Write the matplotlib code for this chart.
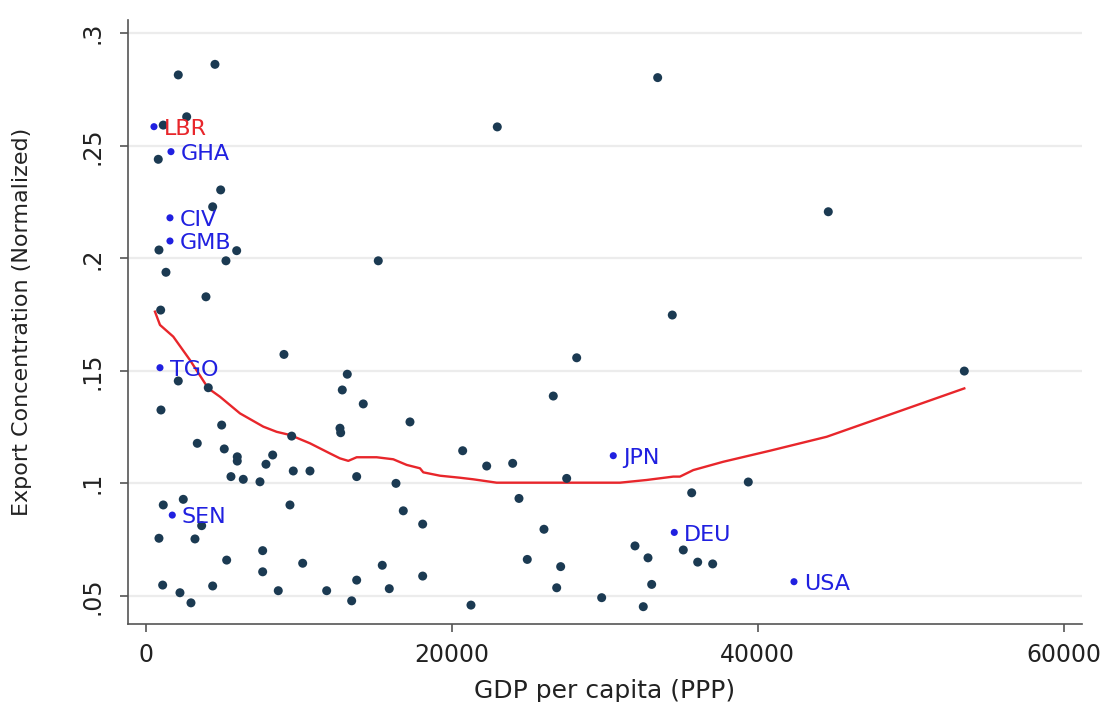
import matplotlib
matplotlib.use("Agg")
import matplotlib.pyplot as plt

# Countries without labels: GDP per capita (PPP) and normalized export concentration
gdp = [4529, 2131, 2680, 1150, 824, 4902, 4379, 869, 5948, 5248, 15203, 1327,
       3941, 980, 9039, 2131, 4092, 13177, 12850, 14222, 17275, 1000, 4967,
       12700, 12745, 9543, 3373, 5137, 5987, 5987, 8301, 7863, 5575, 6379,
       7471, 9647, 10739, 13791, 16360, 20719, 1150, 2458, 3660, 9431, 16837,
       18105, 869, 3222, 7647, 5294, 10262, 7647, 15464, 18105, 13791, 1111,
       4379, 15922, 2242, 8667, 11830, 2961, 13464, 33464, 22981, 34419, 28170,
       26641, 22288, 23987, 27516, 24399, 35687, 39386, 26033, 31981, 32831,
       35138, 36079, 37059, 24941, 27124, 26863, 33072, 29804, 21262, 32523,
       44615, 53504]
conc = [0.2862, 0.2815, 0.2629, 0.2592, 0.2440, 0.2304, 0.2229, 0.2037, 0.2034,
        0.1989, 0.1989, 0.1938, 0.1829, 0.1770, 0.1573, 0.1455, 0.1425, 0.1485,
        0.1415, 0.1353, 0.1273, 0.1326, 0.1259, 0.1245, 0.1225, 0.1210, 0.1178,
        0.1153, 0.1118, 0.1099, 0.1126, 0.1085, 0.1030, 0.1018, 0.1007, 0.1055,
        0.1055, 0.1030, 0.1000, 0.1145, 0.0904, 0.0929, 0.0812, 0.0904, 0.0878,
        0.0819, 0.0756, 0.0753, 0.0701, 0.0659, 0.0645, 0.0607, 0.0636, 0.0588,
        0.0570, 0.0548, 0.0544, 0.0532, 0.0514, 0.0523, 0.0523, 0.0469, 0.0478,
        0.2803, 0.2584, 0.1748, 0.1558, 0.1388, 0.1077, 0.1089, 0.1022, 0.0933,
        0.0958, 0.1006, 0.0796, 0.0722, 0.0669, 0.0704, 0.0650, 0.0642, 0.0662,
        0.0630, 0.0536, 0.0551, 0.0492, 0.0459, 0.0452, 0.2207, 0.1499]

# Highlighted countries
codes = ["LBR", "GHA", "CIV", "GMB", "TGO", "SEN", "JPN", "DEU", "USA"]
codes_gdp = [543, 1654, 1588, 1588, 935, 1739, 30562, 34549, 42373]
codes_conc = [0.2585, 0.2474, 0.2180, 0.2077, 0.1514, 0.0859, 0.1123, 0.0782, 0.0563]

# Lowess fit
fit_gdp = [608, 935, 1804, 2895, 4092, 4856, 6163, 7689, 8562, 9431, 10739,
           12046, 12700, 13243, 13791, 15098, 16183, 17059, 17928, 18144, 19235,
           20543, 21412, 22941, 27516, 31000, 32745, 34484, 34920, 35791, 37752,
           40804, 44510, 48863, 53504]
fit_conc = [0.1763, 0.1704, 0.1652, 0.1548, 0.1422, 0.1385, 0.1311, 0.1252,
            0.1229, 0.1215, 0.1178, 0.1133, 0.1111, 0.1100, 0.1116, 0.1116,
            0.1107, 0.1082, 0.1067, 0.1049, 0.1034, 0.1025, 0.1018, 0.1003,
            0.1003, 0.1003, 0.1015, 0.1030, 0.1030, 0.1059, 0.1096, 0.1145,
            0.1207, 0.1311, 0.1422]

x_ticks = [0, 20000, 40000, 60000]
y_ticks = [0.05, 0.1, 0.15, 0.2, 0.25, 0.3]
y_ticklabels = [".05", ".1", ".15", ".2", ".25", ".3"]

navy = "#1b3a52"
blue = "#2020e0"
red = "#e8262b"

plt.rcParams["font.family"] = ["DejaVu Sans"]

fig = plt.figure(figsize=(11.06, 7.02), dpi=100)
ax = fig.add_axes([0.1157, 0.1111, 0.8626, 0.8604])

ax.set_xlim(-1157, 61197)
ax.set_ylim(0.0375, 0.3059)

for yv in y_ticks:
    ax.axhline(yv, color="#ececec", lw=1.6, zorder=0)

ax.plot(fit_gdp, fit_conc, color=red, lw=1.7, zorder=2)
ax.scatter(gdp, conc, s=42, color=navy, edgecolors="none", zorder=3)
ax.scatter(codes_gdp, codes_conc, s=26, color=blue, edgecolors="none", zorder=3)

for c, xv, yv in zip(codes, codes_gdp, codes_conc):
    ax.annotate(c, (xv, yv), xytext=(7, -1.5), textcoords="offset points",
                ha="left", va="center", fontsize=16,
                color=red if c == "LBR" else blue, zorder=4)

for side in ["top", "right"]:
    ax.spines[side].set_visible(False)
for side in ["left", "bottom"]:
    ax.spines[side].set_color("#555555")
    ax.spines[side].set_linewidth(1.2)

ax.set_xticks(x_ticks)
ax.set_xticklabels([str(v) for v in x_ticks])
ax.set_yticks(y_ticks)
ax.set_yticklabels(y_ticklabels, rotation=90, va="center")
ax.tick_params(axis="both", colors="#555555", length=6, width=1.2,
               labelsize=17, labelcolor="#222222")
ax.tick_params(axis="x", pad=8)
ax.tick_params(axis="y", pad=11)

ax.set_xlabel("GDP per capita (PPP)", fontsize=18, color="#222222")
ax.set_ylabel("Export Concentration (Normalized)", fontsize=16, color="#222222")
ax.xaxis.set_label_coords(0.5, -0.091)
ax.yaxis.set_label_coords(-0.1006, 0.5)

fig.savefig("out.png", dpi=100, facecolor="white")
